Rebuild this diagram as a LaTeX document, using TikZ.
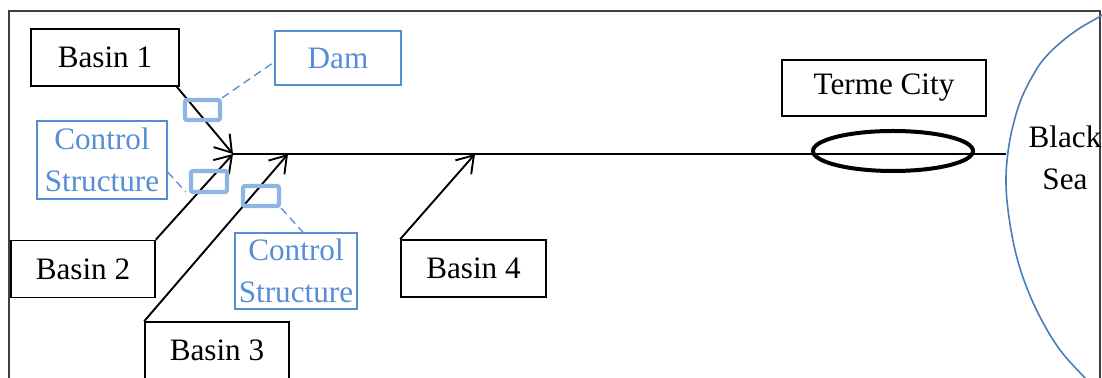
\documentclass[tikz,border=0pt]{standalone}
\usepackage{fontspec}
\setmainfont{Liberation Serif}
\usetikzlibrary{arrows.meta,shapes.geometric,calc}
\definecolor{frameGray}{HTML}{404040}
\definecolor{labelBlue}{HTML}{558ED5}
\definecolor{gateBlue}{HTML}{8EB4E3}
\definecolor{seaBlue}{HTML}{4A7EBB}

\begin{document}
\begin{tikzpicture}[x=0.5pt,y=-0.5pt,
  font=\fontsize{15.6}{21}\selectfont,
  basin/.style={draw=black,line width=0.8pt,inner sep=0pt,minimum height=28.5pt},
  note/.style={draw=labelBlue,line width=0.7pt,text=labelBlue,inner sep=0pt,align=center},
  gate/.style={draw=gateBlue,line width=2.1pt,rounded corners=1pt,minimum width=17.5pt,minimum height=10pt,inner sep=0pt},
  flow/.style={line width=0.95pt,-{Straight Barb[length=8pt,width=10.5pt,line width=0.95pt]}},
  leader/.style={labelBlue,line width=0.65pt,dash pattern=on 4pt off 2.5pt},
]
\useasboundingbox (0,0) rectangle (1102,378);
\clip (0,0) rectangle (1102,378);

% outer frame (open at the bottom)
\draw[frameGray,line width=0.7pt] (9,400) -- (9,11) -- (1100,11) -- (1100,400);

% coast of the sea
\draw[seaBlue,line width=0.8pt] plot[smooth,tension=0.6] coordinates {
  (1112,8) (1099,17) (1080,28) (1060,43) (1043,60) (1032,77) (1022,97)
  (1015,118) (1009,145) (1006,177) (1008,210) (1015,250) (1025,283)
  (1040,317) (1060,350) (1085,378) (1094,388)};
\node[align=center,inner sep=0pt] (sea) at (1065,158) {Black\\Sea};

% junctions on the main river
\coordinate (j1) at (233,154);
\coordinate (j3) at (288,154);
\coordinate (j4) at (475,154);
\coordinate (shore) at (1006,154);

% basins
\node[basin,minimum width=74pt]   (b1) at (105,57.5)  {Basin 1};
\node[basin,minimum width=72pt]   (b2) at (83,269)    {Basin 2};
\node[basin,minimum width=72pt]   (b3) at (217,350.5) {Basin 3};
\node[basin,minimum width=72.5pt] (b4) at (473.5,268.5) {Basin 4};
\node[basin,minimum width=102pt,minimum height=28pt] (terme) at (884,88) {Terme City};

% annotations
\node[note,minimum width=63pt,minimum height=27pt] (dam) at (338,58) {Dam};
\node[note,minimum width=65pt,minimum height=39pt] (cs1) at (102,160) {Control\\Structure};
\node[note,minimum width=61pt,minimum height=38pt] (cs2) at (296,271) {Control\\Structure};

% main river
\draw[line width=0.85pt] (j1) -- (shore);

% tributaries
\draw[flow] ([xshift=-1.5pt]b1.south east) -- (j1);
\draw[flow] (b2.north east) -- (j1);
\draw[flow] (b3.north west) -- (j3);
\draw[flow] (b4.north west) -- (j4);

% structures on the tributaries
\node[gate] (g1) at (202.5,110) {};
\node[gate,minimum width=18pt,minimum height=10.5pt] (g2) at (209,181.5) {};
\node[gate,minimum width=18pt] (g3) at (261,196) {};

% leaders
\draw[leader] (g1.north east) -- ([yshift=-2pt]dam.west);
\draw[leader] ([yshift=-6pt]cs1.east) -- ([xshift=-1.5pt,yshift=1pt]g2.south west);
\draw[leader] (g3.south east) -- ([xshift=3.5pt]cs2.north);

% Terme City
\node[ellipse,draw=black,line width=2pt,minimum width=80pt,minimum height=20pt,inner sep=0pt] (city) at (893,151) {};
\end{tikzpicture}
\end{document}
